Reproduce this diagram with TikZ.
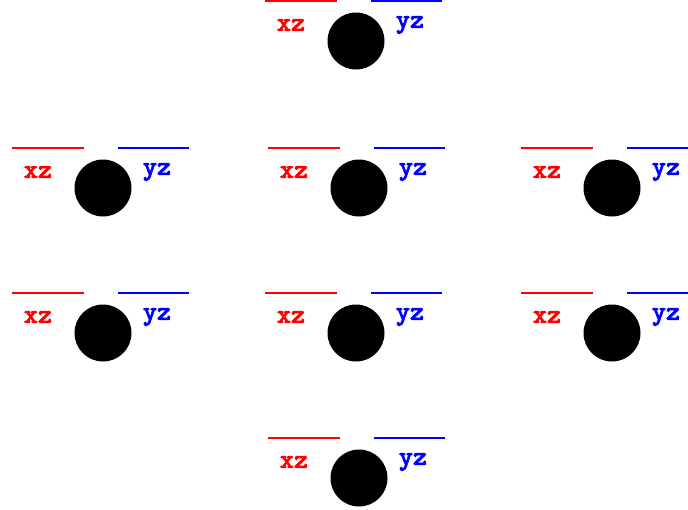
\documentclass[tikz,border=0pt]{standalone}
\usepackage{fontspec}
\newfontfamily\labfont{lmmonolt10-bold.otf}[FakeBold=2.5]
\begin{document}
\begin{tikzpicture}[x=1pt,y=-1pt,
  ball/.style={circle,fill=black,draw=none,minimum size=57pt,inner sep=0pt},
  xzlab/.style={text=red,font=\labfont\fontsize{27}{27}\selectfont,inner sep=0pt},
  yzlab/.style={text=blue,font=\labfont\fontsize{27}{27}\selectfont,inner sep=0pt},
  redline/.style={draw=red,line width=1.4pt},
  blueline/.style={draw=blue,line width=1.4pt}]
\useasboundingbox (0,0) rectangle (688,509);
\foreach \n/\cx/\cy in {a/356/41, b/103/188, c/359/188, d/612/188, e/103/333, f/356/333, g/612/333, h/359/478}{
  \node[ball] (ball\n) at (\cx,\cy) {};
  \node[xzlab] (xz\n) at (\cx-65,\cy-16) {xz};
  \node[yzlab] (yz\n) at (\cx+54,\cy-16) {yz};
  \coordinate (rl\n) at (\cx-91,\cy-40);
  \coordinate (rr\n) at (\cx-19,\cy-40);
  \coordinate (bl\n) at (\cx+15,\cy-40);
  \coordinate (br\n) at (\cx+86,\cy-40);
  \draw[redline] (rl\n) -- (rr\n);
  \draw[blueline] (bl\n) -- (br\n);
}
\end{tikzpicture}
\end{document}
